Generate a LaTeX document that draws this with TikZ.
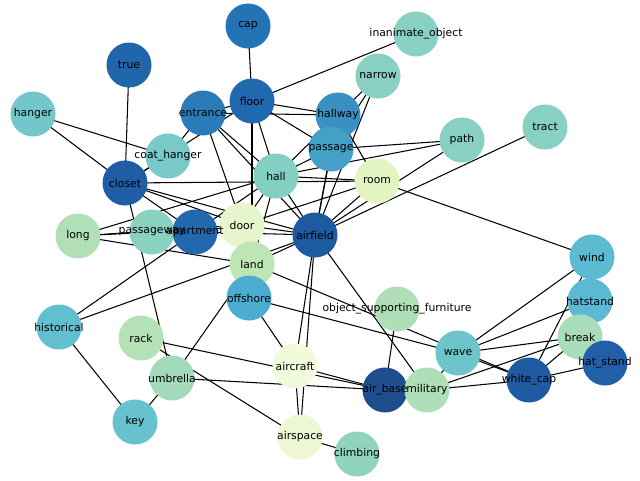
\documentclass[tikz,border=0pt]{standalone}
\usepackage{fontspec}
\setmainfont{DejaVu Sans}
\pgfdeclarelayer{background}
\pgfsetlayers{background,main}
\begin{document}
\begin{tikzpicture}[x=1pt,y=-1pt,
  nd/.style={circle,minimum size=45pt,inner sep=0pt,draw=none},
  lb/.style={inner sep=0pt,font=\fontsize{10.8}{12}\selectfont,text=black},
  ed/.style={line width=1.05pt,black}]
\path[use as bounding box] (0,0) rectangle (640,480);
% node colours
\definecolor{cAirbase}{HTML}{1F4E8F}
\definecolor{cAirfield}{HTML}{1D5A9F}
\definecolor{cWhitecap}{HTML}{1F5BA3}
\definecolor{cCloset}{HTML}{1F5EA6}
\definecolor{cHatstandb}{HTML}{2160A8}
\definecolor{cTrue}{HTML}{2165AB}
\definecolor{cApartment}{HTML}{2168AE}
\definecolor{cFloor}{HTML}{2169AF}
\definecolor{cCap}{HTML}{2473B5}
\definecolor{cEntrance}{HTML}{2A7BB8}
\definecolor{cHallway}{HTML}{3A8FC3}
\definecolor{cPassage}{HTML}{45A0C8}
\definecolor{cOffshore}{HTML}{4BAED1}
\definecolor{cWind}{HTML}{5ABBD3}
\definecolor{cHatstand}{HTML}{5BBAD3}
\definecolor{cHistorical}{HTML}{62BFD0}
\definecolor{cKey}{HTML}{68C2CD}
\definecolor{cWave}{HTML}{6DC4CB}
\definecolor{cHanger}{HTML}{73C7CB}
\definecolor{cCoathanger}{HTML}{78CAC8}
\definecolor{cHall}{HTML}{84CFC3}
\definecolor{cTeal}{HTML}{87D0C2}
\definecolor{cPassageway}{HTML}{8AD2C0}
\definecolor{cClimbing}{HTML}{90D4BF}
\definecolor{cUmbrella}{HTML}{A3DABB}
\definecolor{cBreak}{HTML}{A8DCBA}
\definecolor{cMilitary}{HTML}{AFDFB8}
\definecolor{cOsf}{HTML}{B0DFB7}
\definecolor{cLong}{HTML}{B1E0B7}
\definecolor{cRack}{HTML}{B4E1B6}
\definecolor{cLand}{HTML}{BEE5B5}
\definecolor{cRoom}{HTML}{E3F4C3}
\definecolor{cDoor}{HTML}{E6F5CB}
\definecolor{cAirspace}{HTML}{EDF8D3}
\definecolor{cAircraft}{HTML}{F1FADA}
% circles
\node[nd,fill=cCap] (cap) at (248,26) {};
\node[nd,fill=cTeal] (inanimate) at (416,34) {};
\node[nd,fill=cTrue] (true) at (129,65) {};
\node[nd,fill=cTeal] (narrow) at (378,76) {};
\node[nd,fill=cFloor] (floor) at (252,101) {};
\node[nd,fill=cEntrance] (entrance) at (203,113) {};
\node[nd,fill=cHanger] (hanger) at (33,114) {};
\node[nd,fill=cHallway] (hallway) at (338,115) {};
\node[nd,fill=cTeal] (tract) at (545,127) {};
\node[nd,fill=cTeal] (path) at (462,140) {};
\node[nd,fill=cPassage] (passage) at (331,149) {};
\node[nd,fill=cCoathanger] (coathanger) at (168,156) {};
\node[nd,fill=cHall] (hall) at (276,176) {};
\node[nd,fill=cRoom] (room) at (377,181) {};
\node[nd,fill=cCloset] (closet) at (125,183) {};
\node[nd,fill=cDoor] (door) at (242,225) {};
\node[nd,fill=cLong] (long) at (78,236) {};
\node[nd,fill=cPassageway] (passageway) at (152,232) {};
\node[nd,fill=cApartment] (apartment) at (195,232) {};
\node[nd,fill=cAirfield] (airfield) at (315,235) {};
\node[nd,fill=cWind] (wind) at (592,257) {};
\node[nd,fill=cLand] (land) at (252,264) {};
\node[nd,fill=cOffshore] (offshore) at (249,298) {};
\node[nd,fill=cHatstand] (hatstand) at (590,301) {};
\node[nd,fill=cOsf] (osf) at (397,309) {};
\node[nd,fill=cHistorical] (historical) at (59,327) {};
\node[nd,fill=cBreak] (break) at (580,337) {};
\node[nd,fill=cRack] (rack) at (141,338) {};
\node[nd,fill=cWave] (wave) at (458,353) {};
\node[nd,fill=cHatstandb] (hatstandb) at (605,363) {};
\node[nd,fill=cAircraft] (aircraft) at (295,366) {};
\node[nd,fill=cUmbrella] (umbrella) at (172,378) {};
\node[nd,fill=cWhitecap] (whitecap) at (529,380) {};
\node[nd,fill=cAirbase] (airbase) at (385,390) {};
\node[nd,fill=cMilitary] (military) at (427,390) {};
\node[nd,fill=cKey] (key) at (135,422) {};
\node[nd,fill=cAirspace] (airspace) at (300,437) {};
\node[nd,fill=cClimbing] (climbing) at (357,454) {};
% edges
\begin{pgfonlayer}{background}
\fill[white] (0,0) rectangle (640,480);
\foreach \a/\b in {true/closet, cap/floor, hanger/coathanger, hanger/closet,
  closet/coathanger, coathanger/entrance, closet/floor, floor/inanimate,
  floor/hallway, entrance/hallway, floor/hall, floor/passage, floor/land,
  entrance/hall, entrance/door, entrance/airfield, entrance/floor,
  closet/room, hall/room, hallway/room, hallway/narrow, passage/narrow,
  narrow/airfield, hallway/airfield, passage/airfield, hall/passage,
  hall/hallway, path/passage, path/hall, path/airfield, tract/airfield,
  room/wind, room/airfield, room/door, hall/door, hall/airfield, hall/land,
  hall/long, long/land, long/passageway, long/door, closet/door,
  closet/airfield, closet/apartment, closet/umbrella, door/airfield,
  apartment/airfield, apartment/door, apartment/historical,
  historical/airfield, historical/key, key/umbrella, umbrella/land,
  umbrella/airbase, rack/airbase, rack/airspace, airfield/land,
  airfield/aircraft, airfield/airspace, airfield/military,
  offshore/aircraft, offshore/wave, aircraft/airspace, aircraft/airbase,
  airspace/climbing, airbase/osf, airbase/military, land/whitecap,
  wave/whitecap, wave/wind, wave/hatstand, wave/break, military/wave,
  military/whitecap, military/break, whitecap/wind, whitecap/break,
  whitecap/hatstandb, hall/apartment}
  \draw[ed] (\a.center) -- (\b.center);
\end{pgfonlayer}
% labels
\node[lb] (l-cap) at (cap) {cap};
\node[lb] (l-inanimate) at (inanimate) {inanimate\_object};
\node[lb] (l-true) at (true) {true};
\node[lb] (l-narrow) at (narrow) {narrow};
\node[lb] (l-floor) at (floor) {floor};
\node[lb] (l-entrance) at (entrance) {entrance};
\node[lb] (l-hanger) at (hanger) {hanger};
\node[lb] (l-hallway) at (hallway) {hallway};
\node[lb] (l-tract) at (tract) {tract};
\node[lb] (l-path) at (path) {path};
\node[lb] (l-passage) at (passage) {passage};
\node[lb] (l-coathanger) at (coathanger) {coat\_hanger};
\node[lb] (l-hall) at (hall) {hall};
\node[lb] (l-room) at (room) {room};
\node[lb] (l-closet) at (closet) {closet};
\node[lb] (l-door) at (door) {door};
\node[lb] (l-long) at (long) {long};
\node[lb] (l-passageway) at (passageway) {passageway};
\node[lb] (l-apartment) at (apartment) {apartment};
\node[lb] (l-airfield) at (airfield) {airfield};
\node[lb] (l-wind) at (wind) {wind};
\node[lb] (l-land) at (land) {land};
\node[lb] (l-offshore) at (offshore) {offshore};
\node[lb] (l-hatstand) at (hatstand) {hatstand};
\node[lb] (l-osf) at (osf) {object\_supporting\_furniture};
\node[lb] (l-historical) at (historical) {historical};
\node[lb] (l-break) at (break) {break};
\node[lb] (l-rack) at (rack) {rack};
\node[lb] (l-wave) at (wave) {wave};
\node[lb] (l-hatstandb) at (hatstandb) {hat\_stand};
\node[lb] (l-aircraft) at (aircraft) {aircraft};
\node[lb] (l-umbrella) at (umbrella) {umbrella};
\node[lb] (l-whitecap) at (whitecap) {white\_cap};
\node[lb] (l-airbase) at (airbase) {air\_base};
\node[lb] (l-military) at (military) {military};
\node[lb] (l-key) at (key) {key};
\node[lb] (l-airspace) at (airspace) {airspace};
\node[lb] (l-climbing) at (climbing) {climbing};
\end{tikzpicture}
\end{document}
